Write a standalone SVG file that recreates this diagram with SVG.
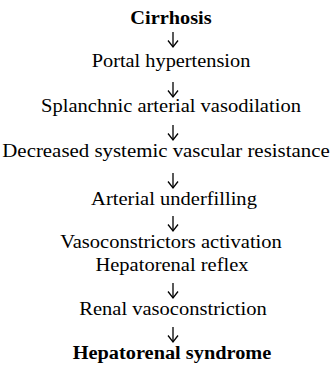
<svg xmlns="http://www.w3.org/2000/svg" width="334" height="369" viewBox="0 0 334 369">
<style>
text{font-family:'Liberation Serif','Times New Roman',serif;font-size:18px;fill:#000;text-anchor:middle}
.b{font-weight:bold}
.c line{stroke:#000;stroke-width:1.3}
.c path{fill:none;stroke:#000;stroke-width:1.3;stroke-linejoin:miter}
</style>
<rect width="334" height="369" fill="#fff"/>
<g id="n1"><text class="b" transform="translate(171 24) scale(1.13 1)">Cirrhosis</text></g>
<g id="n2"><text transform="translate(171 67) scale(1.13 1)">Portal hypertension</text></g>
<g id="n3"><text transform="translate(171 112) scale(1.14 1)">Splanchnic arterial vasodilation</text></g>
<g id="n4"><text transform="translate(166 157) scale(1.16 1)">Decreased systemic vascular resistance</text></g>
<g id="n5"><text transform="translate(174 205) scale(1.14 1)">Arterial underfilling</text></g>
<g id="n6"><text transform="translate(171 248) scale(1.14 1)">Vasoconstrictors activation</text><text transform="translate(172 271) scale(1.14 1)">Hepatorenal reflex</text></g>
<g id="n7"><text transform="translate(173 315) scale(1.14 1)">Renal vasoconstriction</text></g>
<g id="n8"><text class="b" transform="translate(172 359) scale(1.13 1)">Hepatorenal syndrome</text></g>
<g class="c" id="connectors">
<line x1="173" y1="32" x2="173" y2="47"/><path d="M168 40.5 L173 47 L178 40.5"/>
<line x1="173" y1="82" x2="173" y2="97"/><path d="M168 90.5 L173 97 L178 90.5"/>
<line x1="173" y1="125" x2="173" y2="140"/><path d="M168 133.5 L173 140 L178 133.5"/>
<line x1="173" y1="173" x2="173" y2="188"/><path d="M168 181.5 L173 188 L178 181.5"/>
<line x1="173" y1="216" x2="173" y2="231"/><path d="M168 224.5 L173 231 L178 224.5"/>
<line x1="173" y1="283" x2="173" y2="298"/><path d="M168 291.5 L173 298 L178 291.5"/>
<line x1="173" y1="327" x2="173" y2="342"/><path d="M168 335.5 L173 342 L178 335.5"/>
</g>
</svg>
